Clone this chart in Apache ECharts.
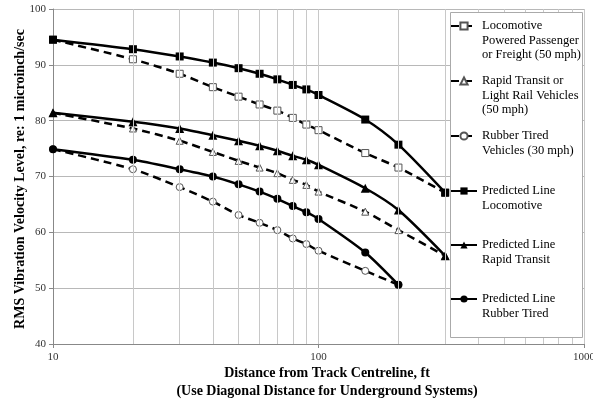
<!DOCTYPE html>
<html>
<head>
<meta charset="utf-8">
<script src="https://cdn.jsdelivr.net/npm/echarts@6/dist/echarts.min.js"></script>
<style>html,body{margin:0;padding:0;background:#fff}#c{width:593px;height:400px}</style>
</head>
<body>
<div id="c"></div>
<script>
// ---- data ----
var distances = [10, 20, 30, 40, 50, 60, 70, 80, 90, 100, 150, 200, 300];
var locoMeasured  = [94.5, 91.0, 88.4, 86.0, 84.3, 82.9, 81.8, 80.5, 79.3, 78.3, 74.2, 71.6, 67.1];
var rapidMeasured = [81.4, 78.6, 76.4, 74.4, 72.8, 71.6, 70.6, 69.4, 68.5, 67.3, 63.7, 60.4, 55.8];
var rubberMeasured = [74.9, 71.3, 68.1, 65.5, 63.1, 61.7, 60.4, 58.9, 57.9, 56.7, 53.1, 50.6];
var locoPredicted  = [94.5, 92.8, 91.5, 90.4, 89.4, 88.4, 87.4, 86.4, 85.6, 84.6, 80.2, 75.7, 67.1];
var rapidPredicted = [81.4, 79.8, 78.6, 77.4, 76.4, 75.5, 74.6, 73.7, 73.0, 72.1, 67.9, 64.0, 55.8];
var rubberPredicted = [74.9, 73.0, 71.3, 70.0, 68.6, 67.3, 66.0, 64.7, 63.6, 62.4, 56.4, 50.6];
var seriesNames = [
  'Locomotive\nPowered Passenger\nor Freight (50 mph)',
  'Rapid Transit or\nLight Rail Vehicles\n(50 mph)',
  'Rubber Tired\nVehicles (30 mph)',
  'Predicted Line\nLocomotive',
  'Predicted Line\nRapid Transit',
  'Predicted Line\nRubber Tired'
];
var xGridValues = [20, 30, 40, 50, 60, 70, 80, 90, 100, 200, 300, 400, 500, 600, 700, 800, 900, 1000];
var yTicks = {min: 40, max: 100, interval: 10};
var xTickLabels = [10, 100, 1000];

// ---- build ----
var FONT = '"Liberation Serif", "Times New Roman", serif';
function pairs(vals) { return vals.map(function (v, i) { return [distances[i], v]; }); }

function mk(name, vals, dashed, symbol, size) {
  return {
    name: name, type: 'line', data: pairs(vals),
    smooth: 0.25,
    symbol: symbol, symbolSize: size,
    lineStyle: {color: '#000', width: 2.5, type: dashed ? [8, 5] : 'solid'},
    itemStyle: dashed ? {color: '#fff', borderColor: '#555', borderWidth: 1} : {color: '#000'},
    z: dashed ? 3 : 4
  };
}

var series = [
  mk(seriesNames[0], locoMeasured, true, 'rect', 7),
  mk(seriesNames[1], rapidMeasured, true, 'triangle', 7),
  mk(seriesNames[2], rubberMeasured, true, 'circle', 7),
  mk(seriesNames[3], locoPredicted, false, 'rect', 8),
  mk(seriesNames[4], rapidPredicted, false, 'triangle', 9),
  mk(seriesNames[5], rubberPredicted, false, 'circle', 8)
];
// vertical grid lines
series.push({
  type: 'line', data: [], silent: true, z: 1,
  markLine: {
    silent: true, symbol: 'none', label: {show: false}, animation: false,
    lineStyle: {color: '#c8c8c8', width: 1, type: 'solid'},
    data: xGridValues.map(function (v) { return {xAxis: v}; })
  }
});

var L = 14.5;
var centers = [26, 81, 136, 191, 245, 299];
var legends = seriesNames.map(function (n, i) {
  var lines = n.split('\n').length;
  var k = lines - 1;
  var pre = new Array(k + 1).join('\n');
  return {
    data: [n], left: 450, top: centers[i] - (lines + k) * L / 2,
    orient: 'vertical', itemWidth: 26, itemHeight: 9, padding: 0, z: 20,
    selectedMode: false,
    formatter: function (name) { return pre + name; },
    textStyle: {fontFamily: FONT, fontSize: 12.5, color: '#000', lineHeight: L}
  };
});

var chart = echarts.init(document.getElementById('c'), null, {renderer: 'canvas'});
chart.setOption({
  animation: false,
  backgroundColor: '#fff',
  grid: {left: 53, right: 9, top: 9, bottom: 56, containLabel: false, outerBoundsMode: 'none'},
  legend: legends,
  graphic: [{
    type: 'rect', z: 10, silent: true,
    shape: {x: 450.5, y: 12.5, width: 132, height: 325},
    style: {fill: '#fff', stroke: '#aaa', lineWidth: 1}
  }],
  xAxis: {
    type: 'log', logBase: 10, min: 10, max: 1000,
    axisLine: {lineStyle: {color: '#888', width: 1}},
    axisTick: {show: true, length: 4, lineStyle: {color: '#888'}},
    splitLine: {show: false},
    axisLabel: {
      fontFamily: FONT, fontSize: 11, color: '#333', margin: 8,
      formatter: function (v) { return xTickLabels.indexOf(v) >= 0 ? String(v) : ''; }
    },
    name: 'Distance from Track Centreline, ft\n(Use Diagonal Distance for Underground Systems)',
    nameLocation: 'middle', nameGap: 20, nameMoveOverlap: false,
    nameTextStyle: {fontFamily: FONT, fontSize: 14, fontWeight: 'bold', color: '#000', lineHeight: 18, padding: [0, 0, 0, 17]}
  },
  yAxis: {
    type: 'value', min: yTicks.min, max: yTicks.max, interval: yTicks.interval,
    axisLine: {show: true, lineStyle: {color: '#888', width: 1}},
    axisTick: {show: true, length: 4, lineStyle: {color: '#888'}},
    splitLine: {show: true, lineStyle: {color: '#b8b8b8', width: 1}},
    axisLabel: {fontFamily: FONT, fontSize: 11, color: '#333', margin: 7},
    name: 'RMS Vibration Velocity Level, re: 1 microinch/sec',
    nameLocation: 'middle', nameGap: 26, nameRotate: 90, nameMoveOverlap: false,
    nameTextStyle: {fontFamily: FONT, fontSize: 14, fontWeight: 'bold', color: '#000', padding: [0, 5, 0, 0]}
  },
  series: series
});
</script>
</body>
</html>
